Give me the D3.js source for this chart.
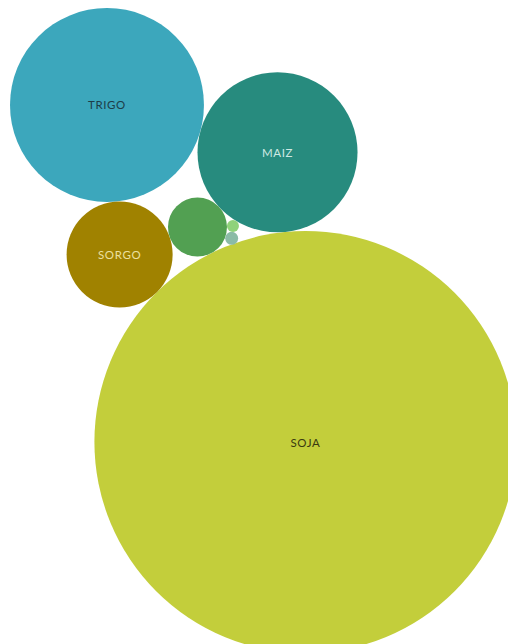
<!DOCTYPE html>
<html><head><meta charset="utf-8">
<script src="https://cdn.jsdelivr.net/npm/d3@7"></script>
<style>html,body{margin:0;padding:0;background:#fff;}svg{display:block;}</style>
</head><body>
<svg id="chart" width="508" height="644"></svg>
<script>
// Data
const categories = ["SOJA", "MAIZ", "GIRASOL", "SORGO", "TRIGO", "CEBADA", "AVENA"];
const values     = [44500, 6400, 870, 2810, 9400, 36, 42];
const showLabel  = [true, true, false, true, true, false, false];
const colors     = ["#c3ce3b", "#278b7e", "#52a052", "#a08200", "#3ca7bc", "#8fd27a", "#8bbba6"];
const labelColors= ["#3a3a10", "#cfe9e3", "#ffffff", "#ece0a0", "#1d3d48", "#000", "#000"];

// Layout: each bubble touches two previous ones [anchorA, anchorB, side]
const tangency = [null, null, [0, 1, -1], [0, 2, -1], [3, 1, -1], [2, 1, 1], [2, 5, 1]];
const firstAngleDeg = -95.5;

const W = 508, H = 644;
const svg = d3.select("#chart");
const r = d3.scaleSqrt().domain([0, d3.max(values)]).range([0, 211]);

const nodes = categories.map((c, i) => ({name: c, value: values[i], r: r(values[i]), color: colors[i], lc: labelColors[i], label: showLabel[i]}));

// place
nodes[0].x = 0; nodes[0].y = 0;
const a0 = firstAngleDeg * Math.PI / 180;
nodes[1].x = (nodes[0].r + nodes[1].r) * Math.cos(a0);
nodes[1].y = (nodes[0].r + nodes[1].r) * Math.sin(a0);
for (let i = 2; i < nodes.length; i++) {
  const [ia, ib, side] = tangency[i];
  const A = nodes[ia], B = nodes[ib], n = nodes[i];
  const dx = B.x - A.x, dy = B.y - A.y, d = Math.hypot(dx, dy);
  const ux = dx / d, uy = dy / d;
  const a = A.r + n.r, b = B.r + n.r;
  const t = (a * a - b * b + d * d) / (2 * d);
  const h = Math.sqrt(Math.max(0, a * a - t * t));
  n.x = A.x + t * ux + side * h * (-uy);
  n.y = A.y + t * uy + side * h * ux;
}
const minX = d3.min(nodes, n => n.x - n.r), minY = d3.min(nodes, n => n.y - n.r);
const offX = 10 - minX, offY = 8 - minY;

const g = svg.append("g").attr("transform", `translate(${offX},${offY})`);
const drawOrder = nodes.slice().sort((p, q) => q.r - p.r);
g.selectAll("circle").data(drawOrder).join("circle")
  .attr("cx", d => d.x).attr("cy", d => d.y).attr("r", d => d.r)
  .attr("fill", d => d.color);
g.selectAll("text").data(nodes.filter(d => d.label)).join("text")
  .attr("x", d => d.x).attr("y", d => d.y)
  .attr("text-anchor", "middle").attr("dominant-baseline", "central")
  .attr("font-family", "Lato, 'Open Sans', sans-serif").attr("font-size", 11.5)
  .attr("letter-spacing", 0.6)
  .attr("fill", d => d.lc)
  .text(d => d.name);
</script>
</body></html>
